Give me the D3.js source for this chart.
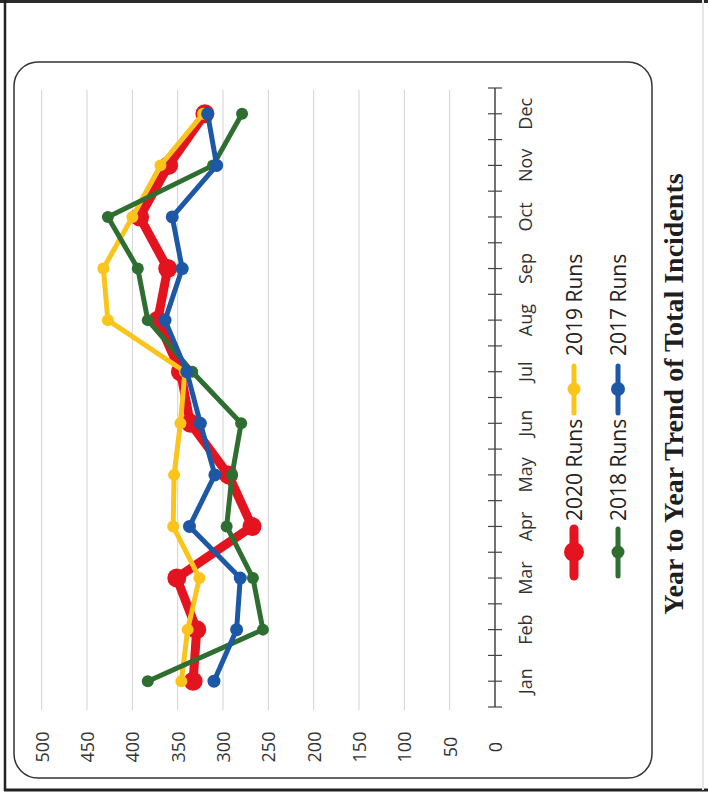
<!DOCTYPE html>
<html>
<head>
<meta charset="utf-8">
<script src="https://cdn.jsdelivr.net/npm/d3@7"></script>
<style>
  body { margin: 0; background: #fff; }
  svg { display: block; }
</style>
</head>
<body>
<div id="chart"></div>
<script>
const months = ["Jan", "Feb", "Mar", "Apr", "May", "Jun", "Jul", "Aug", "Sep", "Oct", "Nov", "Dec"];
const valueTicks = [0, 50, 100, 150, 200, 250, 300, 350, 400, 450, 500];
const runs2020 = [333, 329, 351, 268, 294, 336, 347, 372, 361, 392, 360, 320];
const runs2019 = [346, 339, 326, 355, 354, 347, 342, 427, 432, 400, 369, 322];
const runs2018 = [383, 256, 267, 296, 290, 280, 334, 383, 394, 427, 311, 279];
const runs2017 = [310, 285, 281, 337, 309, 325, 340, 364, 345, 356, 307, 317];
const seriesNames = ["2020 Runs", "2019 Runs", "2018 Runs", "2017 Runs"];
const titleText = "Year to Year Trend of Total Incidents";

const width = 708, height = 794;

// draw order: red under, blue on top
const series = [
    { name: seriesNames[0], values: runs2020, color: "#e3141f", sw: 9, r: 9.5 },
    { name: seriesNames[1], values: runs2019, color: "#fbc41b", sw: 5, r: 6 },
    { name: seriesNames[2], values: runs2018, color: "#2f6e31", sw: 5, r: 6 },
    { name: seriesNames[3], values: runs2017, color: "#1d58a6", sw: 5, r: 6.5 }
];

const svg = d3.select("#chart").append("svg")
    .attr("width", width)
    .attr("height", height);

// page frame from the scan
svg.append("line").attr("x1", 0).attr("x2", width).attr("y1", 1.5).attr("y2", 1.5)
    .attr("stroke", "#2a2a2a").attr("stroke-width", 3);
svg.append("line").attr("x1", 5).attr("x2", 5).attr("y1", 0).attr("y2", 791)
    .attr("stroke", "#222").attr("stroke-width", 2.5);
svg.append("line").attr("x1", 4).attr("x2", width).attr("y1", 790).attr("y2", 790)
    .attr("stroke", "#222").attr("stroke-width", 3);
svg.append("line").attr("x1", 703).attr("x2", 703).attr("y1", 0).attr("y2", 790)
    .attr("stroke", "#e6e6e6").attr("stroke-width", 2);

// rounded chart box
svg.append("rect")
    .attr("x", 14).attr("y", 62)
    .attr("width", 638).attr("height", 716)
    .attr("rx", 24).attr("ry", 24)
    .attr("fill", "none")
    .attr("stroke", "#333")
    .attr("stroke-width", 1.5);

// scales: values run right-to-left, months bottom-to-top
const x = d3.scaleLinear().domain([0, 500]).range([495, 41.7]);
const y = d3.scaleBand().domain(months).range([707, 88]);
const yc = m => y(m) + y.bandwidth() / 2;
const half = d3.scaleLinear().domain([0, 12]).range([707, 88]);

// gridlines
svg.append("g").selectAll("line")
    .data(valueTicks.filter(d => d > 0))
    .enter().append("line")
    .attr("x1", d => x(d)).attr("x2", d => x(d))
    .attr("y1", 90).attr("y2", 710)
    .attr("stroke", "#d2d2d2")
    .attr("stroke-width", 1);

// value labels
svg.append("g").selectAll("text")
    .data(valueTicks)
    .enter().append("text")
    .attr("transform", d => `translate(${x(d)},747) rotate(-90)`)
    .attr("text-anchor", "middle")
    .attr("dominant-baseline", "central")
    .attr("font-family", "'Open Sans', sans-serif")
    .attr("font-size", 18)
    .attr("fill", "#333")
    .text(d => d);

// month axis
let axis = svg.append("g");
axis.append("line")
    .attr("x1", x(0)).attr("x2", x(0))
    .attr("y1", half(0)).attr("y2", half(12))
    .attr("stroke", "#444").attr("stroke-width", 1.5);
axis.selectAll(".tick")
    .data(d3.range(0, 12.5, 0.5))
    .enter().append("line")
    .attr("class", "tick")
    .attr("x1", x(0) - 7).attr("x2", x(0) + 7)
    .attr("y1", d => half(d)).attr("y2", d => half(d))
    .attr("stroke", "#444").attr("stroke-width", 1.2);
axis.selectAll("text")
    .data(months)
    .enter().append("text")
    .attr("transform", d => `translate(525,${yc(d)}) rotate(-90)`)
    .attr("text-anchor", "middle")
    .attr("dominant-baseline", "central")
    .attr("font-family", "'Open Sans', sans-serif")
    .attr("font-size", 18)
    .attr("fill", "#333")
    .text(d => d);

// lines and markers
const line = d3.line()
    .x(d => x(d.v))
    .y(d => yc(d.m));

series.forEach(s => {
    let pts = months.map((m, i) => ({ m: m, v: s.values[i] }));
    let g = svg.append("g");
    g.append("path")
        .attr("d", line(pts))
        .attr("fill", "none")
        .attr("stroke", s.color)
        .attr("stroke-width", s.sw)
        .attr("stroke-linejoin", "round")
        .attr("stroke-linecap", "round");
    g.selectAll("circle")
        .data(pts)
        .enter().append("circle")
        .attr("cx", d => x(d.v))
        .attr("cy", d => yc(d.m))
        .attr("r", s.r)
        .attr("fill", s.color);
});

// legend, 2 x 2
const legendPos = [
    { lx: 574, ly: 552, ty: 521 },
    { lx: 574, ly: 389, ty: 356 },
    { lx: 618, ly: 552, ty: 521 },
    { lx: 618, ly: 389, ty: 356 }
];
series.forEach((s, i) => {
    let p = legendPos[i];
    let g = svg.append("g");
    g.append("line")
        .attr("x1", p.lx).attr("x2", p.lx)
        .attr("y1", p.ly - 23).attr("y2", p.ly + 24)
        .attr("stroke", s.color)
        .attr("stroke-width", s.sw)
        .attr("stroke-linecap", "round");
    g.append("circle")
        .attr("cx", p.lx).attr("cy", p.ly)
        .attr("r", s.r + 0.5)
        .attr("fill", s.color);
    g.append("text")
        .attr("transform", `translate(${p.lx},${p.ty}) rotate(-90)`)
        .attr("text-anchor", "start")
        .attr("dominant-baseline", "central")
        .attr("font-family", "'Open Sans', sans-serif")
        .attr("font-size", 21)
        .attr("fill", "#222")
        .text(s.name);
});

// title
svg.append("text")
    .attr("transform", "translate(673,394) rotate(-90)")
    .attr("text-anchor", "middle")
    .attr("dominant-baseline", "central")
    .attr("font-family", "'Liberation Serif', serif")
    .attr("font-weight", "bold")
    .attr("font-size", 28)
    .attr("fill", "#1e1e1e")
    .text(titleText);
</script>
</body>
</html>
